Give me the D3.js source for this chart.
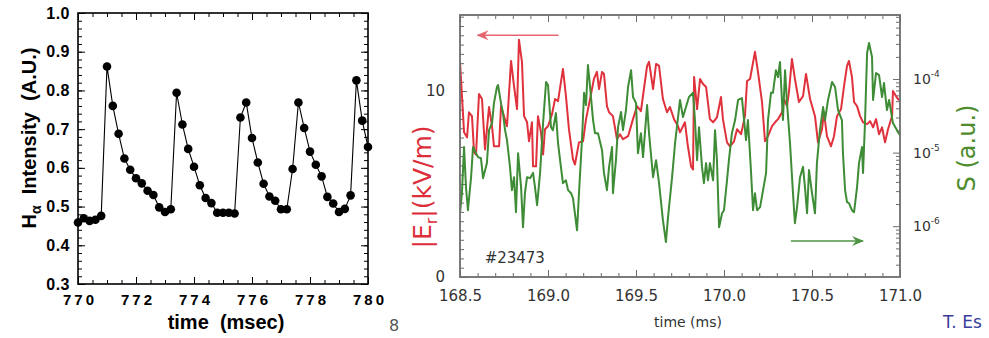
<!DOCTYPE html>
<html>
<head>
<meta charset="utf-8">
<script src="https://cdn.jsdelivr.net/npm/d3@7"></script>
<style>
  body { margin: 0; background: #fff; }
  svg { display: block; }
</style>
</head>
<body>
<div id="chart"></div>
<script>
// ---- left panel data: H-alpha intensity vs time (msec) ----
const haTime = [770.0, 770.2, 770.4, 770.6, 770.8, 771.0, 771.2, 771.4, 771.6, 771.8,
  772.0, 772.2, 772.4, 772.6, 772.8, 773.0, 773.2, 773.4, 773.6, 773.8,
  774.0, 774.2, 774.4, 774.6, 774.8, 775.0, 775.2, 775.4, 775.6, 775.8,
  776.0, 776.2, 776.4, 776.6, 776.8, 777.0, 777.2, 777.4, 777.6, 777.8,
  778.0, 778.2, 778.4, 778.6, 778.8, 779.0, 779.2, 779.4, 779.6, 779.8, 780.0];
const haValue = [0.459, 0.470, 0.463, 0.466, 0.476, 0.862, 0.760, 0.688, 0.624, 0.595,
  0.573, 0.560, 0.541, 0.530, 0.498, 0.486, 0.493, 0.794, 0.712, 0.649,
  0.603, 0.555, 0.522, 0.509, 0.484, 0.484, 0.484, 0.482, 0.730, 0.769,
  0.677, 0.614, 0.559, 0.526, 0.515, 0.493, 0.493, 0.597, 0.769, 0.703,
  0.642, 0.608, 0.578, 0.525, 0.508, 0.486, 0.494, 0.529, 0.826, 0.722, 0.654];
const haTimeTicks = [770, 772, 774, 776, 778, 780];
const haValueTicks = [0.3, 0.4, 0.5, 0.6, 0.7, 0.8, 0.9, 1.0];

// ---- right panel data: |Er| (kV/m) and S (a.u.) vs time (ms), shot #23473 ----
const erSeries = [
  [168.500, 11.57], [168.523, 7.78], [168.540, 7.51], [168.551, 8.86], [168.568, 8.65],
  [168.580, 6.70], [168.591, 6.59], [168.608, 9.84], [168.625, 9.57], [168.642, 6.86],
  [168.653, 7.95], [168.665, 9.14], [168.682, 8.11], [168.693, 7.03], [168.722, 7.03],
  [168.733, 9.19], [168.750, 8.65], [168.767, 8.11], [168.790, 11.62], [168.807, 10.27],
  [168.824, 9.03], [168.835, 12.76], [168.852, 11.57], [168.864, 8.65], [168.881, 8.32],
  [168.892, 7.30], [168.909, 8.32], [168.915, 5.95], [168.932, 5.95], [168.943, 8.65],
  [168.960, 7.78], [168.972, 6.59], [168.983, 7.95], [169.000, 8.11], [169.023, 8.76],
  [169.040, 9.57], [169.057, 9.46], [169.085, 11.19], [169.102, 9.73], [169.119, 7.95],
  [169.142, 6.32], [169.153, 6.05], [169.176, 7.24], [169.199, 7.30], [169.216, 8.49],
  [169.239, 9.57], [169.261, 10.65], [169.278, 11.03], [169.290, 10.11], [169.307, 11.03],
  [169.318, 10.92], [169.335, 9.19], [169.347, 8.86], [169.369, 8.65], [169.392, 7.41],
  [169.409, 7.68], [169.426, 7.41], [169.455, 7.57], [169.483, 8.49], [169.506, 9.19],
  [169.528, 8.92], [169.545, 10.11], [169.563, 11.35], [169.574, 11.57], [169.597, 10.11],
  [169.614, 11.46], [169.631, 11.35], [169.653, 9.57], [169.676, 8.86], [169.693, 9.14],
  [169.716, 8.49], [169.739, 8.11], [169.750, 7.78], [169.778, 8.32], [169.795, 7.03],
  [169.813, 5.95], [169.824, 5.78], [169.830, 10.76], [169.847, 9.03], [169.864, 10.65],
  [169.881, 10.38], [169.898, 10.22], [169.920, 8.49], [169.938, 8.32], [169.960, 8.59],
  [169.983, 9.68], [169.994, 8.49], [170.017, 7.24], [170.034, 7.03], [170.057, 7.30],
  [170.074, 7.95], [170.097, 7.68], [170.119, 8.65], [170.131, 10.54], [170.148, 10.65],
  [170.176, 12.11], [170.193, 11.03], [170.216, 9.41], [170.233, 7.30], [170.250, 7.57],
  [170.273, 8.11], [170.290, 8.32], [170.307, 8.49], [170.330, 8.86], [170.341, 9.57],
  [170.358, 9.19], [170.369, 9.95], [170.386, 11.73], [170.403, 10.65], [170.426, 9.41],
  [170.449, 9.73], [170.466, 10.92], [170.489, 9.57], [170.517, 8.65], [170.534, 7.24],
  [170.557, 7.95], [170.568, 8.86], [170.585, 7.57], [170.608, 7.03], [170.625, 7.57],
  [170.642, 8.65], [170.665, 9.03], [170.682, 10.27], [170.699, 11.35], [170.710, 11.62],
  [170.727, 10.76], [170.739, 9.41], [170.756, 9.19], [170.773, 8.65], [170.790, 8.32],
  [170.813, 8.22], [170.830, 8.38], [170.847, 8.05], [170.864, 8.49], [170.881, 7.68],
  [170.898, 8.05], [170.915, 7.24], [170.932, 7.95], [170.955, 8.65], [170.960, 10.00],
  [170.977, 9.73], [170.989, 9.57], [171.000, 9.50]
];
const sSeries = [
  [168.500, 1.50e-6], [168.511, 2.81e-6], [168.523, 1.19e-5], [168.534, 3.40e-6], [168.545, 1.65e-6],
  [168.563, 4.64e-6], [168.574, 1.19e-5], [168.591, 9.8e-6], [168.602, 8.7e-6], [168.619, 8.4e-6],
  [168.631, 4.5e-6], [168.653, 7.2e-6], [168.665, 2.02e-5], [168.682, 2.52e-5], [168.693, 4.71e-5],
  [168.710, 7.8e-5], [168.716, 8.3e-5], [168.733, 4.71e-5], [168.744, 3.44e-5], [168.756, 2.02e-5],
  [168.767, 1.48e-5], [168.784, 6.4e-6], [168.795, 3.09e-6], [168.807, 4.64e-6], [168.818, 1.55e-6],
  [168.830, 9.8e-6], [168.847, 3.40e-6], [168.858, 9.7e-7], [168.869, 2.81e-6], [168.881, 4.64e-6],
  [168.898, 4.5e-6], [168.915, 5.3e-6], [168.926, 3.40e-6], [168.938, 1.93e-6], [168.955, 5.3e-6],
  [168.972, 2.52e-5], [168.989, 9.1e-5], [169.000, 8.3e-5], [169.017, 2.22e-5], [169.028, 2.02e-5],
  [169.045, 3.44e-5], [169.057, 1.35e-5], [169.074, 6.2e-6], [169.085, 3.85e-6], [169.102, 4.2e-6],
  [169.114, 3.09e-6], [169.131, 2.81e-6], [169.142, 2.40e-6], [169.165, 8.8e-7], [169.176, 2.81e-6],
  [169.193, 1.48e-5], [169.205, 6.5e-5], [169.216, 4.43e-5], [169.227, 1.55e-4], [169.239, 7.8e-5],
  [169.256, 2.77e-5], [169.267, 1.84e-5], [169.284, 1.84e-5], [169.307, 1.08e-5], [169.318, 5.3e-6],
  [169.335, 3.09e-6], [169.347, 6.4e-6], [169.364, 1.19e-5], [169.369, 2.81e-6], [169.386, 7.9e-6],
  [169.398, 2.22e-5], [169.415, 3.56e-5], [169.426, 2.02e-5], [169.443, 3.79e-5], [169.455, 7.8e-5],
  [169.472, 1.32e-4], [169.483, 5.7e-5], [169.500, 4.71e-5], [169.511, 9.8e-6], [169.528, 1.84e-5],
  [169.540, 8.7e-6], [169.563, 4.43e-5], [169.574, 1.84e-5], [169.597, 4.64e-6], [169.614, 7.9e-6],
  [169.631, 3.85e-6], [169.653, 1.21e-6], [169.670, 6.1e-7], [169.682, 1.33e-6], [169.705, 4.64e-6],
  [169.722, 1.35e-5], [169.739, 3.04e-5], [169.750, 5.2e-5], [169.767, 3.04e-5], [169.784, 4.16e-5],
  [169.801, 5.7e-5], [169.824, 6.5e-5], [169.835, 2.77e-5], [169.847, 7.9e-6], [169.858, 2.22e-5],
  [169.875, 6.4e-6], [169.886, 3.85e-6], [169.898, 7.2e-6], [169.909, 4.2e-6], [169.920, 7.2e-6],
  [169.938, 4.2e-6], [169.949, 2.02e-5], [169.960, 7.9e-6], [169.972, 9.7e-7], [169.989, 1.50e-6],
  [170.000, 1.65e-6], [170.017, 4.2e-6], [170.028, 7.9e-6], [170.045, 1.84e-5], [170.063, 2.77e-5],
  [170.080, 5.2e-5], [170.102, 5.5e-5], [170.114, 2.77e-5], [170.125, 1.48e-5], [170.136, 2.77e-5],
  [170.153, 5.8e-6], [170.165, 1.65e-6], [170.176, 2.81e-6], [170.188, 1.65e-6], [170.205, 1.82e-6],
  [170.222, 3.09e-6], [170.239, 5.3e-6], [170.250, 2.77e-5], [170.267, 6.5e-5], [170.278, 6.5e-5],
  [170.295, 1.32e-4], [170.307, 1.06e-4], [170.318, 1.70e-4], [170.335, 2.77e-5], [170.347, 1.32e-4],
  [170.358, 4.71e-5], [170.375, 1.35e-5], [170.392, 2.81e-6], [170.403, 1.10e-6], [170.415, 1.82e-6],
  [170.432, 4.64e-6], [170.449, 6.4e-6], [170.460, 3.40e-6], [170.472, 1.50e-6], [170.483, 5.8e-6],
  [170.500, 2.81e-6], [170.517, 1.50e-6], [170.528, 7.2e-6], [170.545, 2.02e-5], [170.563, 4.16e-5],
  [170.574, 2.77e-5], [170.591, 5.2e-5], [170.614, 9.1e-5], [170.631, 7.8e-5], [170.648, 3.79e-5],
  [170.670, 2.77e-5], [170.676, 9.8e-6], [170.688, 3.09e-6], [170.699, 2.12e-6], [170.710, 2.06e-6],
  [170.727, 1.65e-6], [170.739, 1.55e-6], [170.756, 3.40e-6], [170.767, 7.2e-6], [170.784, 1.19e-5],
  [170.790, 5.3e-6], [170.801, 2.52e-5], [170.813, 2.26e-4], [170.824, 3.09e-4], [170.841, 1.99e-4],
  [170.847, 5.2e-5], [170.864, 1.21e-4], [170.881, 1.13e-4], [170.898, 5.7e-5], [170.909, 8.8e-5],
  [170.926, 3.79e-5], [170.938, 5.2e-5], [170.960, 2.52e-5], [170.989, 1.90e-5], [171.000, 1.73e-5]
];
const timeTicks = [168.5, 169.0, 169.5, 170.0, 170.5, 171.0];
const erTicks = [0, 10];
const sTicks = [1e-6, 1e-5, 1e-4];
const shotLabel = '#23473';

// settings
const width = 989;
const height = 338;
const boxL = { left: 78, right: 368, top: 13, bottom: 284 };
const boxR = { left: 460, right: 900, top: 15, bottom: 277 };
const boldFont = "'Liberation Sans', Arial, sans-serif";
const plainFont = "'DejaVu Sans', Verdana, sans-serif";
const redLine = '#e0323c';
const greenLine = '#3e8c36';

const svg = d3.select('#chart')
  .append('svg')
  .attr('width', width)
  .attr('height', height)
  .attr('viewBox', `0 0 ${width} ${height}`);

// draws inward ticks on one side of a frame
function ticks (g, axisFn, scale, values, len, color, fmt) {
  const axis = axisFn(scale)
    .tickValues(values)
    .tickSizeInner(-len)
    .tickSizeOuter(0)
    .tickFormat(fmt || (() => ''));
  g.call(axis);
  g.select('.domain').remove();
  g.selectAll('.tick line').attr('stroke', color);
  return g;
}

// ================= left panel =================
const hx = d3.scaleLinear().domain([770, 780]).range([boxL.left, boxL.right]);
const hy = d3.scaleLinear().domain([0.3, 1.0]).range([boxL.bottom, boxL.top]);
const hxMinor = d3.range(770, 780.001, 0.5);
const hyMinor = d3.range(0.3, 1.0001, 0.02);

const gl = svg.append('g');
[[d3.axisBottom, boxL.bottom, 'x'], [d3.axisTop, boxL.top, 'x'],
  [d3.axisLeft, boxL.left, 'y'], [d3.axisRight, boxL.right, 'y']].forEach(([fn, pos, dim]) => {
  const t = dim === 'x' ? `translate(0,${pos})` : `translate(${pos},0)`;
  const sc = dim === 'x' ? hx : hy;
  ticks(gl.append('g').attr('transform', t), fn, sc, dim === 'x' ? hxMinor : hyMinor, 4, '#000');
  ticks(gl.append('g').attr('transform', t), fn, sc, dim === 'x' ? haTimeTicks : haValueTicks, 7, '#000');
});

// labelled axes
const hxAxis = gl.append('g')
  .attr('transform', `translate(0,${boxL.bottom})`)
  .call(d3.axisBottom(hx).tickValues(haTimeTicks).tickSize(0).tickPadding(10).tickFormat(d3.format('d')));
hxAxis.select('.domain').remove();
hxAxis.selectAll('text')
  .attr('font-family', boldFont)
  .attr('font-weight', 'bold')
  .attr('font-size', 15)
  .attr('letter-spacing', 3)
  .attr('dx', 1.5)
  .attr('fill', '#000');

const hyAxis = gl.append('g')
  .attr('transform', `translate(${boxL.left},0)`)
  .call(d3.axisLeft(hy).tickValues(haValueTicks).tickSize(0).tickPadding(8).tickFormat(d3.format('.1f')));
hyAxis.select('.domain').remove();
hyAxis.selectAll('text')
  .attr('font-family', boldFont)
  .attr('font-weight', 'bold')
  .attr('font-size', 16)
  .attr('letter-spacing', 0.5)
  .attr('fill', '#000');

gl.append('rect')
  .attr('x', boxL.left)
  .attr('y', boxL.top)
  .attr('width', boxL.right - boxL.left)
  .attr('height', boxL.bottom - boxL.top)
  .attr('fill', 'none')
  .attr('stroke', '#000')
  .attr('stroke-width', 1.6);

const haData = haTime.map((t, i) => [t, haValue[i]]);
gl.append('path')
  .datum(haData)
  .attr('fill', 'none')
  .attr('stroke', '#000')
  .attr('stroke-width', 1.1)
  .attr('d', d3.line().x(d => hx(d[0])).y(d => hy(d[1])));
gl.selectAll('circle.dot')
  .data(haData)
  .join('circle')
  .attr('class', 'dot')
  .attr('cx', d => hx(d[0]))
  .attr('cy', d => hy(d[1]))
  .attr('r', 4.3)
  .attr('fill', '#000');

gl.append('text')
  .attr('x', (boxL.left + boxL.right) / 2 + 3)
  .attr('y', 329)
  .attr('text-anchor', 'middle')
  .attr('font-family', boldFont)
  .attr('font-weight', 'bold')
  .attr('font-size', 20)
  .style('white-space', 'pre')
  .text('time  (msec)');

const yTitle = gl.append('text')
  .attr('transform', 'translate(36,138) rotate(-90)')
  .attr('text-anchor', 'middle')
  .attr('font-family', boldFont)
  .attr('font-weight', 'bold')
  .attr('font-size', 20)
  .style('white-space', 'pre');
yTitle.append('tspan').text('H');
yTitle.append('tspan').attr('dy', 5).attr('font-size', 14).text('α');
yTitle.append('tspan').attr('dy', -5).text('  Intensity  (A.U.)');

svg.append('text')
  .attr('x', 394)
  .attr('y', 331)
  .attr('text-anchor', 'middle')
  .attr('font-family', plainFont)
  .attr('font-size', 16)
  .attr('fill', '#555')
  .text('8');

// ================= right panel =================
const tx = d3.scaleLinear().domain([168.5, 171.0]).range([boxR.left, boxR.right]);
const ey = d3.scaleLinear().domain([0, 14.09]).range([boxR.bottom, boxR.top]);
const sy = d3.scaleLog().domain([Math.pow(10, -6.69), Math.pow(10, -3.13)]).range([boxR.bottom, boxR.top]);
const frameGray = '#6d6d6d';

const gr = svg.append('g');
const txMinor = d3.range(168.5, 171.001, 0.1);
const eyMinor = d3.range(0, 14.01, 0.5);
const syMinor = sy.ticks().filter(v => !sTicks.some(p => Math.abs(v / p - 1) < 1e-6));

ticks(gr.append('g').attr('transform', `translate(0,${boxR.bottom})`), d3.axisBottom, tx, txMinor, 4, frameGray);
ticks(gr.append('g').attr('transform', `translate(0,${boxR.bottom})`), d3.axisBottom, tx, timeTicks, 7, frameGray);
ticks(gr.append('g').attr('transform', `translate(0,${boxR.top})`), d3.axisTop, tx, txMinor, 4, frameGray);
ticks(gr.append('g').attr('transform', `translate(0,${boxR.top})`), d3.axisTop, tx, timeTicks, 7, frameGray);
ticks(gr.append('g').attr('transform', `translate(${boxR.left},0)`), d3.axisLeft, ey, eyMinor, 4, frameGray);
ticks(gr.append('g').attr('transform', `translate(${boxR.left},0)`), d3.axisLeft, ey, [0, 5, 10], 7, frameGray);
ticks(gr.append('g').attr('transform', `translate(${boxR.right},0)`), d3.axisRight, sy, syMinor, 4, frameGray);
ticks(gr.append('g').attr('transform', `translate(${boxR.right},0)`), d3.axisRight, sy, sTicks, 7, frameGray);

const txAxis = gr.append('g')
  .attr('transform', `translate(0,${boxR.bottom})`)
  .call(d3.axisBottom(tx).tickValues(timeTicks).tickSize(0).tickPadding(13).tickFormat(d3.format('.1f')));
txAxis.select('.domain').remove();
txAxis.selectAll('text')
  .attr('font-family', plainFont)
  .attr('font-size', 15)
  .attr('fill', '#333');

const eyAxis = gr.append('g')
  .attr('transform', `translate(${boxR.left},0)`)
  .call(d3.axisLeft(ey).tickValues(erTicks).tickSize(0).tickPadding(15).tickFormat(d3.format('d')));
eyAxis.select('.domain').remove();
eyAxis.selectAll('text')
  .attr('font-family', plainFont)
  .attr('font-size', 15)
  .attr('fill', '#333');

// log axis labels as 10 with superscript exponent
const sLabels = gr.selectAll('text.slab')
  .data(sTicks)
  .join('text')
  .attr('class', 'slab')
  .attr('x', boxR.right + 13)
  .attr('y', d => sy(d))
  .attr('dy', '0.35em')
  .attr('font-family', plainFont)
  .attr('font-size', 14)
  .attr('fill', '#333');
sLabels.append('tspan').text('10');
sLabels.append('tspan')
  .attr('dy', -7)
  .attr('font-size', 9)
  .text(d => String(Math.round(Math.log10(d))));

gr.append('clipPath')
  .attr('id', 'clipR')
  .append('rect')
  .attr('x', boxR.left)
  .attr('y', boxR.top)
  .attr('width', boxR.right - boxR.left)
  .attr('height', boxR.bottom - boxR.top);

const lines = gr.append('g')
  .attr('clip-path', 'url(#clipR)')
  .attr('fill', 'none')
  .attr('stroke-width', 2)
  .attr('stroke-linejoin', 'round');
lines.append('path')
  .datum(erSeries)
  .attr('stroke', redLine)
  .attr('d', d3.line().x(d => tx(d[0])).y(d => ey(d[1])));
lines.append('path')
  .datum(sSeries)
  .attr('stroke', greenLine)
  .attr('d', d3.line().x(d => tx(d[0])).y(d => sy(d[1])));

gr.append('rect')
  .attr('x', boxR.left)
  .attr('y', boxR.top)
  .attr('width', boxR.right - boxR.left)
  .attr('height', boxR.bottom - boxR.top)
  .attr('fill', 'none')
  .attr('stroke', frameGray)
  .attr('stroke-width', 1.8);

// arrows pointing to the axis each curve belongs to
const defs = svg.append('defs');
[['arrRed', '#e56670'], ['arrGreen', '#4f9444']].forEach(([id, c]) => {
  defs.append('marker')
    .attr('id', id)
    .attr('viewBox', '0 0 12 10')
    .attr('refX', 11)
    .attr('refY', 5)
    .attr('markerWidth', 12)
    .attr('markerHeight', 10)
    .attr('markerUnits', 'userSpaceOnUse')
    .attr('orient', 'auto')
    .append('path')
    .attr('d', 'M0,0 L12,5 L0,10 L4,5 Z')
    .attr('fill', c);
});
gr.append('line')
  .attr('x1', tx(169.06)).attr('y1', ey(13.0))
  .attr('x2', tx(168.6)).attr('y2', ey(13.0))
  .attr('stroke', '#e56670')
  .attr('stroke-width', 1.5)
  .attr('marker-end', 'url(#arrRed)');
gr.append('line')
  .attr('x1', tx(170.38)).attr('y1', sy(6.3e-7))
  .attr('x2', tx(170.79)).attr('y2', sy(6.3e-7))
  .attr('stroke', '#4f9444')
  .attr('stroke-width', 1.5)
  .attr('marker-end', 'url(#arrGreen)');

gr.append('text')
  .attr('x', tx(168.64))
  .attr('y', ey(0.75))
  .attr('font-family', plainFont)
  .attr('font-size', 15)
  .attr('fill', '#333')
  .text(shotLabel);

gr.append('text')
  .attr('x', 688)
  .attr('y', 327)
  .attr('text-anchor', 'middle')
  .attr('font-family', plainFont)
  .attr('font-size', 14)
  .attr('fill', '#333')
  .text('time (ms)');

const erTitle = gr.append('text')
  .attr('transform', 'translate(422,187) rotate(-90)')
  .attr('text-anchor', 'middle')
  .attr('dy', '0.35em')
  .attr('font-family', plainFont)
  .attr('font-size', 25)
  .attr('fill', '#dc2f3b');
erTitle.append('tspan').text('|E');
erTitle.append('tspan').attr('dy', 6).attr('font-size', 16).text('r');
erTitle.append('tspan').attr('dy', -6).text('|(kV/m)');

gr.append('text')
  .attr('transform', 'translate(967,148) rotate(-90)')
  .attr('text-anchor', 'middle')
  .attr('dy', '0.35em')
  .attr('font-family', plainFont)
  .attr('font-size', 24)
  .attr('fill', '#4e8c2c')
  .text('S (a.u.)');

svg.append('text')
  .attr('x', 943)
  .attr('y', 328)
  .attr('font-family', plainFont)
  .attr('font-size', 17)
  .attr('fill', '#3b3d9c')
  .text('T. Es');
</script>
</body>
</html>
